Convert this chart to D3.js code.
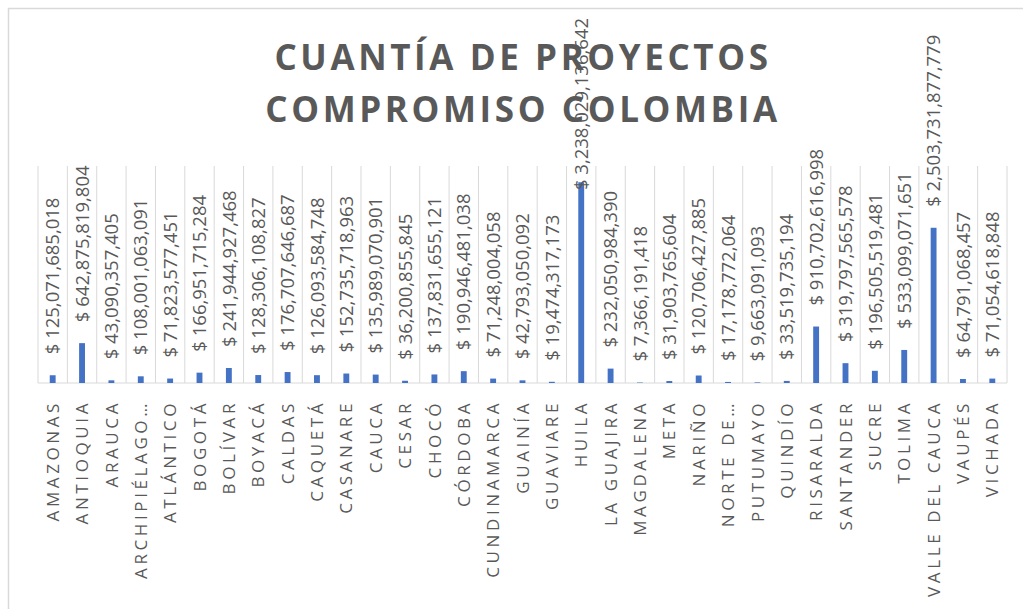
<!DOCTYPE html>
<html><head><meta charset="utf-8">
<script src="https://cdn.jsdelivr.net/npm/d3@7"></script>
<style>body{margin:0;background:#fff}svg{display:block}</style>
</head><body>
<svg id="c" width="1023" height="609"></svg>
<script>
const categories = ["AMAZONAS","ANTIOQUIA","ARAUCA","ARCHIPIÉLAGO…","ATLÁNTICO","BOGOTÁ","BOLÍVAR","BOYACÁ","CALDAS","CAQUETÁ","CASANARE","CAUCA","CESAR","CHOCÓ","CÓRDOBA","CUNDINAMARCA","GUAINÍA","GUAVIARE","HUILA","LA GUAJIRA","MAGDALENA","META","NARIÑO","NORTE DE…","PUTUMAYO","QUINDÍO","RISARALDA","SANTANDER","SUCRE","TOLIMA","VALLE DEL CAUCA","VAUPÉS","VICHADA"];
const values = [125071685018,642875819804,43090357405,108001063091,71823577451,166951715284,241944927468,128306108827,176707646687,126093584748,152735718963,135989070901,36200855845,137831655121,190946481038,71248004058,42793050092,19474317173,3238029136642,232050984390,7366191418,31903765604,120706427885,17178772064,9663091093,33519735194,910702616998,319797565578,196505519481,533099071651,2503731877779,64791068457,71054618848];
const yDomain = [0, 3500000000000];
const titleLines = ["CUANTÍA DE PROYECTOS","COMPROMISO COLOMBIA"];

const svg = d3.select("#c");
const L = 38, R = 1007, T = 166, B = 383;
const x = d3.scaleBand().domain(categories).range([L, R]).padding(0);
const y = d3.scaleLinear().domain(yDomain).range([B, T]);
const fmt = v => "$ " + d3.format(",.0f")(v);

// chart border
svg.append("rect").attr("x", 8.5).attr("y", 8.5).attr("width", 1040).attr("height", 640)
  .attr("fill", "none").attr("stroke", "#d9d9d9").attr("stroke-width", 1.5);

// vertical gridlines at category boundaries
const bounds = categories.map(c => x(c)).concat([R]);
svg.append("g").selectAll("line").data(bounds).join("line")
  .attr("x1", d => d).attr("x2", d => d).attr("y1", T).attr("y2", B)
  .attr("stroke", "#d9d9d9").attr("stroke-width", 1);

// axis line
svg.append("line").attr("x1", L).attr("x2", R).attr("y1", B).attr("y2", B)
  .attr("stroke", "#d9d9d9").attr("stroke-width", 1.2);

// bars
const bw = x.step() * 0.2;
svg.append("g").selectAll("rect").data(values).join("rect")
  .attr("x", (d, i) => x(categories[i]) + x.bandwidth() / 2 - bw / 2)
  .attr("width", bw)
  .attr("y", d => y(d))
  .attr("height", d => B - y(d))
  .attr("fill", "#4472c4");

// value labels
const vl = svg.append("g").attr("font-family", "'Open Sans', sans-serif")
  .attr("font-size", 18.5).attr("fill", "#595959");
values.forEach((v, i) => {
  const cx = x(categories[i]) + x.bandwidth() / 2;
  const t = vl.append("text").text(fmt(v)).attr("dy", "0.36em");
  const len = t.node().getComputedTextLength();
  let ys = y(v) - 21;
  if (ys - len < 18) ys = 18 + len;
  t.attr("transform", `translate(${cx},${ys}) rotate(-90)`);
});

// category labels
svg.append("g").attr("font-family", "'Open Sans', sans-serif")
  .attr("font-size", 17).attr("fill", "#595959").attr("letter-spacing", "3.6px")
  .selectAll("text").data(categories).join("text")
  .attr("text-anchor", "end").attr("dy", "0.36em")
  .attr("transform", d => `translate(${x(d) + x.bandwidth() / 2},${400}) rotate(-90)`)
  .text(d => d);

// title
svg.append("g").attr("font-family", "'Open Sans', sans-serif").attr("font-weight", 700)
  .attr("font-size", 35).attr("fill", "#595959").attr("letter-spacing", "3.6px")
  .selectAll("text").data(titleLines).join("text")
  .attr("x", 523).attr("y", (d, i) => 70 + i * 52).attr("text-anchor", "middle")
  .text(d => d);
</script>
</body></html>
